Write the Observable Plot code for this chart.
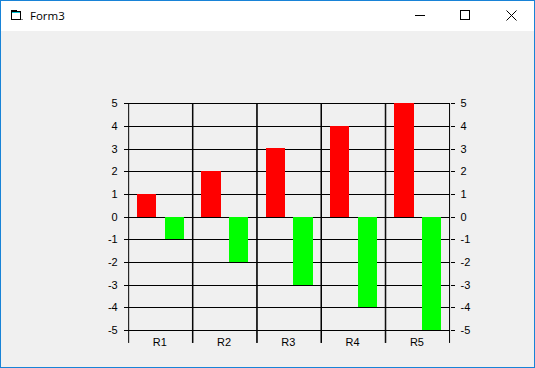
<!DOCTYPE html>
<html>
<head>
<meta charset="utf-8">
<script src="https://cdn.jsdelivr.net/npm/d3@7"></script>
<script src="https://cdn.jsdelivr.net/npm/@observablehq/plot@0.6"></script>
<style>
html,body{margin:0;padding:0;background:#f0f0f0;overflow:hidden}
#win{position:relative;width:535px;height:368px;box-sizing:border-box;border:1px solid #1883d7;background:#f0f0f0;overflow:hidden}
#bar{position:absolute;left:0;top:0;right:0;height:30px;background:#fff}
#title{position:absolute;left:29px;top:7px;font:11.5px/16px "Open Sans","Noto Sans",sans-serif;color:#000}
#bar svg{position:absolute;left:0;top:0}
#chart{position:absolute;left:-1px;top:-1px}
#chart svg{display:block;background:transparent}
</style>
</head>
<body>
<div id="win">
  <div id="bar">
    <svg width="533" height="30" fill="none" stroke="#000" stroke-width="1" shape-rendering="crispEdges">
      <path d="M10.5 10.5h9v8h-9zM10.5 10.5v-1h5v1"/>
      <path d="M11 11.5h8" stroke="#00c8d8"/>
      <path d="M20 18.5h2" stroke="#888"/>
      <path d="M414 14.5h10"/>
      <path d="M459.5 9.5h9v9h-9z"/>
      <path d="M505.5 9.5L515.5 19.5M515.5 9.5L505.5 19.5" shape-rendering="auto"/>
    </svg>
    <div id="title">Form3</div>
  </div>
  <div id="chart"></div>
</div>
<script>
const categories = ["R1", "R2", "R3", "R4", "R5"];
const seriesNames = ["a", "b"];
const seriesA = [1, 2, 3, 4, 5];
const seriesB = [-1, -2, -3, -4, -5];
const yTicks = [-5, -4, -3, -2, -1, 0, 1, 2, 3, 4, 5];
const seriesColors = ["#ff0000", "#00ff00"];

const rowsA = categories.map((c, i) => ({cat: c, s: "a", v: seriesA[i]}));
const rowsB = categories.map((c, i) => ({cat: c, s: "b", v: seriesB[i]}));
const tickFont = {fontFamily: '"Liberation Sans",Arial,sans-serif', fontSize: 11, fill: "#000"};
const crisp = {shapeRendering: "crispEdges"};

const plot = Plot.plot({
  width: 535,
  height: 368,
  marginTop: 103.6,
  marginBottom: 37.4,
  marginLeft: 128.4,
  marginRight: 84.6,
  style: {background: "transparent", fontFamily: tickFont.fontFamily, fontSize: "11px", color: "#000"},
  fx: {domain: categories, padding: 0, round: false, label: null},
  x: {domain: seriesNames, paddingInner: 0.2996, paddingOuter: 0.3122, align: 0.514, round: false, axis: null},
  y: {domain: [-5, 5], label: null},
  color: {domain: seriesNames, range: seriesColors},
  marks: [
    Plot.ruleY(yTicks, {stroke: "#000", strokeOpacity: 1, strokeWidth: 1, ...crisp}),
    Plot.frame({anchor: "left", stroke: "#000", strokeOpacity: 1, insetBottom: -12, ...crisp}),
    Plot.frame({anchor: "right", stroke: "#000", strokeOpacity: 1, insetBottom: -12, dx: -0.5, ...crisp}),
    Plot.barY(rowsA, {fx: "cat", x: "s", y: "v", fill: "s", insetBottom: -1, dy: -0.3, ...crisp}),
    Plot.barY(rowsB, {fx: "cat", x: "s", y: "v", fill: "s", ...crisp}),
    Plot.ruleY([yTicks[0]], {stroke: "#000", strokeOpacity: 1, strokeWidth: 1, ...crisp}),
    Plot.axisY({anchor: "left", ticks: yTicks, tickFormat: d => String(d), tickSize: 4, tickPadding: 7, label: null, ...crisp, ...tickFont}),
    Plot.axisY({anchor: "right", ticks: yTicks, tickFormat: d => String(d), tickSize: 4.5, tickPadding: 6, label: null, ...crisp, ...tickFont}),
    Plot.axisFx({anchor: "bottom", tickSize: 0, tickPadding: 8, dx: -1, label: null, ...tickFont})
  ]
});
document.getElementById("chart").appendChild(plot);
</script>
</body>
</html>
